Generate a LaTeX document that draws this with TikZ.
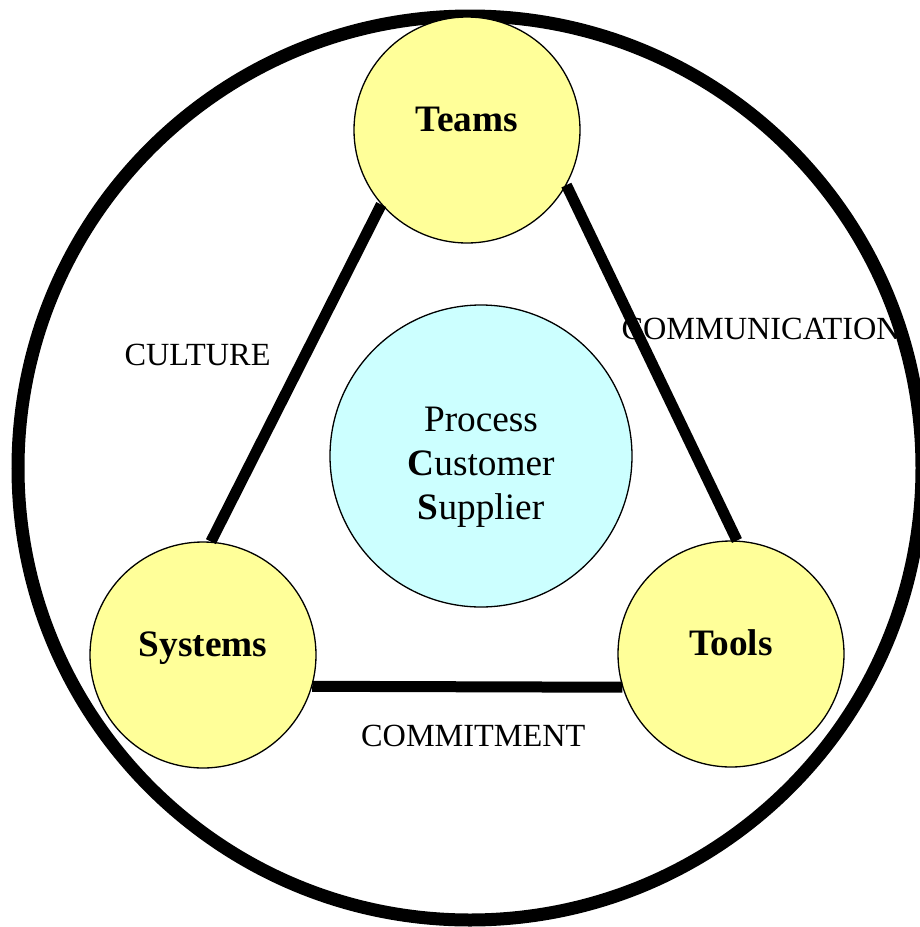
\documentclass[tikz,border=0pt]{standalone}
\usepackage{fontspec}
\setmainfont{Liberation Serif}
\definecolor{corefill}{HTML}{FFFF99}
\definecolor{hubfill}{HTML}{CCFFFF}
\tikzset{
  corenode/.style={circle, draw, line width=1.3pt, fill=corefill, minimum size=226pt, inner sep=0pt,
    text height=25pt, text depth=23pt, font=\fontsize{37.3}{40}\selectfont\bfseries},
  hubnode/.style={circle, draw, line width=1.3pt, fill=hubfill, minimum size=302pt, inner sep=0pt,
    align=center, text height=126pt, text depth=0pt, font=\fontsize{37.3}{44}\selectfont},
  linklabel/.style={font=\fontsize{32.3}{35}\selectfont},
  link/.style={line width=11pt}
}
\begin{document}
\begin{tikzpicture}[x=1pt, y=-1pt]
\useasboundingbox (0,0) rectangle (920,927);
\draw[line width=13pt] (470,468) circle (452);
\node[hubnode] (hub) at (481,456) {Process\\\textbf{C}ustomer\\\textbf{S}upplier};
\node[corenode] (teams) at (467,130) {Teams};
\node[corenode] (systems) at (203,655) {Systems};
\node[corenode] (tools) at (731,654) {Tools};
\draw[link] (teams.221.7) -- (systems.86.8);
\draw[link] (teams.331.3) -- (tools.87.3);
\draw[link] (systems.-16.4) -- (tools.197);
\node[linklabel] (culture) at (197.5,355) {CULTURE};
\node[linklabel] (communication) at (760.6,329) {COMMUNICATION};
\node[linklabel] (commitment) at (473.3,735.6) {COMMITMENT};
\end{tikzpicture}
\end{document}
